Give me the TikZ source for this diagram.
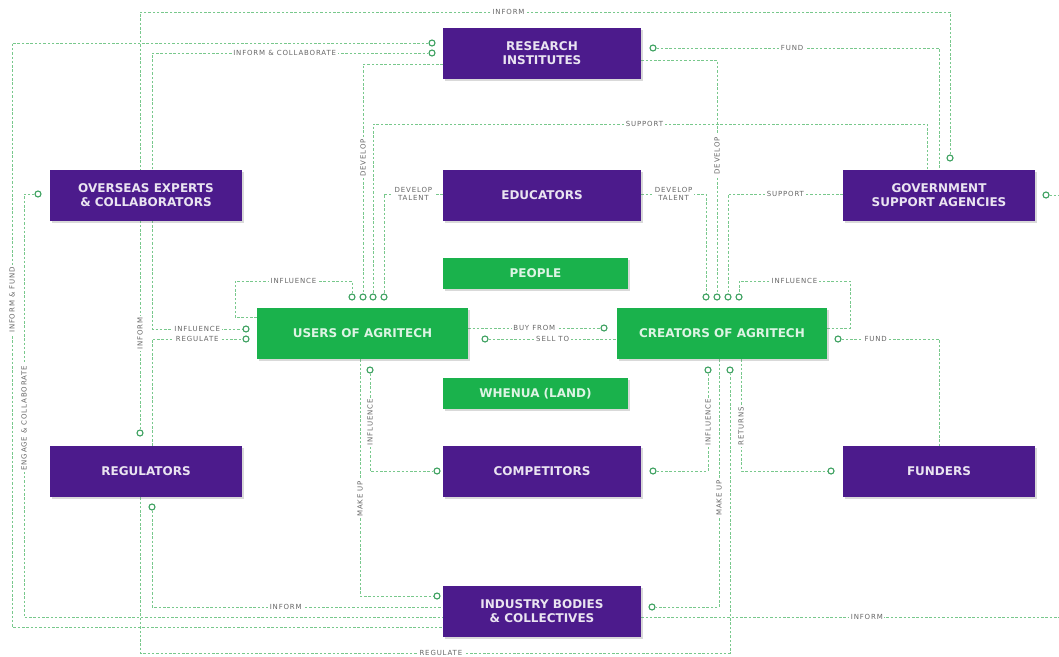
\documentclass[tikz,border=0pt]{standalone}
\usepackage{fontspec}
\setmainfont{DejaVu Sans}
\newfontfamily\lblfont{DejaVu Sans}[LetterSpace=12]
\usetikzlibrary{positioning,shadows,calc}
\pgfdeclarelayer{background}
\pgfsetlayers{background,main}
\definecolor{agpurple}{RGB}{76,27,140}
\definecolor{aggreen}{RGB}{26,178,76}
\definecolor{aglink}{RGB}{120,200,140}
\definecolor{agdot}{RGB}{60,160,95}
\tikzset{
  pbox/.style={fill=agpurple, text=white!88!agpurple, font=\bfseries\fontsize{12}{14}\selectfont,
    align=center, minimum width=195, minimum height=51,
    drop shadow={shadow xshift=1.5pt, shadow yshift=-2pt, opacity=.3}},
  gbox/.style={pbox, fill=aggreen, text=white!85!aggreen},
  conn/.style={aglink, line width=.9pt, dash pattern=on 2.5pt off 1.8pt},
  lbl/.style={fill=white, text=black!60, font=\lblfont\fontsize{7}{7.5}\selectfont, inner sep=1.5pt, align=center},
  endpt/.style={circle, draw=agdot, fill=white, line width=1.1pt, inner sep=0pt, minimum size=6pt},
}

\begin{document}
\begin{tikzpicture}[x=1pt,y=-1pt]
\useasboundingbox (0,0) rectangle (1059,656);

% boxes
\node[pbox, minimum width=198] (res) at (542,53) {RESEARCH\\INSTITUTES};
\node[pbox, minimum width=192] (ovs) at (146,195) {OVERSEAS EXPERTS\\\& COLLABORATORS};
\node[pbox, minimum width=198] (edu) at (542,195) {EDUCATORS};
\node[pbox, minimum width=192] (gov) at (939,195) {GOVERNMENT\\SUPPORT AGENCIES};
\node[gbox, minimum width=185, minimum height=31] (ppl) at (535.5,273.5) {PEOPLE};
\node[gbox, minimum width=211] (usr) at (362.5,333.5) {USERS OF AGRITECH};
\node[gbox, minimum width=210] (crt) at (722,333.5) {CREATORS OF AGRITECH};
\node[gbox, minimum width=185, minimum height=31] (lnd) at (535.5,393.5) {WHENUA (LAND)};
\node[pbox, minimum width=192] (reg) at (146,471.5) {REGULATORS};
\node[pbox, minimum width=198] (cmp) at (542,471.5) {COMPETITORS};
\node[pbox, minimum width=192] (fnd) at (939,471.5) {FUNDERS};
\node[pbox, minimum width=198] (ind) at (542,611.5) {INDUSTRY BODIES\\\& COLLECTIVES};

% end points
\node[endpt] (dGovT) at (950,158) {};
\node[endpt] (dResL1) at (432,43) {};
\node[endpt] (dResL2) at (432,53) {};
\node[endpt] (dResR) at (653,48) {};
\node[endpt] (dOvsL) at (38,194) {};
\node[endpt] (dGovR) at (1046,195) {};
\node[endpt] (dU1) at (352,297) {};
\node[endpt] (dU2) at (363,297) {};
\node[endpt] (dU3) at (373,297) {};
\node[endpt] (dU4) at (384,297) {};
\node[endpt] (dC1) at (706,297) {};
\node[endpt] (dC2) at (717,297) {};
\node[endpt] (dC3) at (728,297) {};
\node[endpt] (dC4) at (739,297) {};
\node[endpt] (dUl1) at (246,329) {};
\node[endpt] (dUl2) at (246,339) {};
\node[endpt] (dBuy) at (604,328) {};
\node[endpt] (dSell) at (485,339) {};
\node[endpt] (dCrtR) at (838,339) {};
\node[endpt] (dUb) at (370,370) {};
\node[endpt] (dCb1) at (708,370) {};
\node[endpt] (dCb2) at (730,370) {};
\node[endpt] (dRegT) at (140,433) {};
\node[endpt] (dCmpL) at (437,471) {};
\node[endpt] (dCmpR) at (653,471) {};
\node[endpt] (dFnd) at (831,471) {};
\node[endpt] (dRegB) at (152,507) {};
\node[endpt] (dIndL) at (437,596) {};
\node[endpt] (dIndR) at (652,607) {};
\coordinate (eGov) at (1059,195);
\coordinate (eInd) at (1059,617);

\begin{pgfonlayer}{background}
% top and left loops
\draw[conn] (dGovT) -- (950,12) -- node[lbl,pos=.545]{INFORM} (140,12)
  -- node[lbl,rotate=90,pos=.77]{INFORM} (dRegT);
\draw[conn] (dResL1) -- (12,43) -- node[lbl,rotate=90,pos=.44]{INFORM \& FUND} (12,627)
  -- (ind.west |- 0,627);
\draw[conn] (ovs.north -| 152,0) -- (152,53) -- node[lbl,pos=.48]{INFORM \& COLLABORATE} (dResL2);
\draw[conn] (dResR) -- node[lbl,pos=.48]{FUND} (939,48) -- (gov.north -| 939,0);
\draw[conn] (dOvsL) -- (24,194) -- node[lbl,rotate=90,pos=.53]{ENGAGE \& COLLABORATE} (24,617)
  -- (ind.west |- 0,617);
\draw[conn] (dGovR) -- (eGov);

% into users and creators from above
\draw[conn] (res.west |- 0,64) -- (363,64) -- node[lbl,rotate=90,pos=.41]{DEVELOP} (dU2);
\draw[conn] (res.east |- 0,60) -- (717,60) -- node[lbl,rotate=90,pos=.41]{DEVELOP} (dC2);
\draw[conn] (gov.north -| 927,0) -- (927,124) -- node[lbl,pos=.51]{SUPPORT} (373,124) -- (dU3);
\draw[conn] (edu.west |- 0,194) -- node[lbl]{DEVELOP\\TALENT} (384,194) -- (dU4);
\draw[conn] (edu.east |- 0,194) -- node[lbl]{DEVELOP\\TALENT} (706,194) -- (dC1);
\draw[conn] (gov.west |- 0,194) -- node[lbl]{SUPPORT} (728,194) -- (dC3);
\draw[conn] (usr.west |- 0,317) -- (235,317) -- (235,281) -- node[lbl]{INFLUENCE} (352,281) -- (dU1);
\draw[conn] (crt.east |- 0,328) -- (850,328) -- (850,281) -- node[lbl]{INFLUENCE} (739,281) -- (dC4);

% middle row
\draw[conn] (ovs.south -| 152,0) -- (152,329) -- node[lbl]{INFLUENCE} (dUl1);
\draw[conn] (reg.north -| 152,0) -- (152,339) -- node[lbl]{REGULATE} (dUl2);
\draw[conn] (usr.east |- dBuy) -- node[lbl]{BUY FROM} (dBuy);
\draw[conn] (dSell) -- node[lbl]{SELL TO} (crt.west |- dSell);
\draw[conn] (dCrtR) -- node[lbl,pos=.35]{FUND} (939,339) -- (fnd.north -| 939,0);

% below users and creators
\draw[conn] (dUb) -- node[lbl,rotate=90]{INFLUENCE} (370,471) -- (dCmpL);
\draw[conn] (usr.south -| 360,0) -- node[lbl,rotate=90,pos=.59]{MAKE UP} (360,596) -- (dIndL);
\draw[conn] (dCmpR) -- (708,471) -- node[lbl,rotate=90]{INFLUENCE} (dCb1);
\draw[conn] (crt.south -| 719,0) -- node[lbl,rotate=90,pos=.56]{MAKE UP} (719,607) -- (dIndR);
\draw[conn] (crt.south -| 741,0) -- node[lbl,rotate=90,pos=.6]{RETURNS} (741,471) -- (dFnd);
\draw[conn] (reg.south -| 140,0) -- (140,653) -- node[lbl,pos=.51]{REGULATE} (730,653) -- (dCb2);
\draw[conn] (dRegB) -- (152,607) -- node[lbl,pos=.46]{INFORM} (ind.west |- 0,607);
\draw[conn] (ind.east |- 0,617) -- node[lbl,pos=.54]{INFORM} (eInd);
\end{pgfonlayer}
\end{tikzpicture}
\end{document}
